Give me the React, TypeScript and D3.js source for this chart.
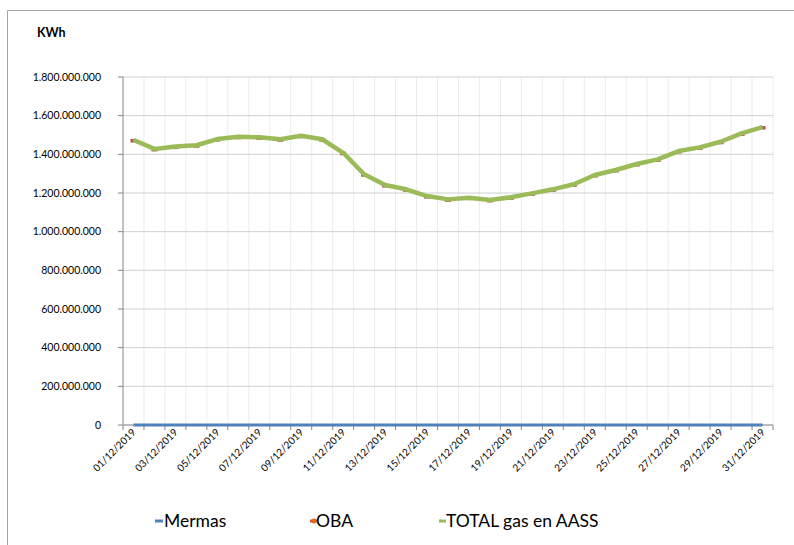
import * as d3 from "d3";
import React from "react";

const days: string[] = [
  "01/12/2019", "02/12/2019", "03/12/2019", "04/12/2019", "05/12/2019", "06/12/2019", "07/12/2019", "08/12/2019",
  "09/12/2019", "10/12/2019", "11/12/2019", "12/12/2019", "13/12/2019", "14/12/2019", "15/12/2019", "16/12/2019",
  "17/12/2019", "18/12/2019", "19/12/2019", "20/12/2019", "21/12/2019", "22/12/2019", "23/12/2019", "24/12/2019",
  "25/12/2019", "26/12/2019", "27/12/2019", "28/12/2019", "29/12/2019", "30/12/2019", "31/12/2019",
];

const mermas: number[] = days.map(() => 0);

const total: number[] = [
  1474e6, 1428e6, 1440e6, 1447e6, 1479e6, 1491e6, 1488e6, 1478e6, 1496e6, 1478e6, 1408e6,
  1297e6, 1241e6, 1219e6, 1184e6, 1167e6, 1176e6, 1164e6, 1178e6, 1198e6, 1219e6, 1245e6,
  1293e6, 1319e6, 1350e6, 1374e6, 1417e6, 1436e6, 1465e6, 1508e6, 1541e6,
];

const oba: number[] = total.map((v, i) => v - mermas[i]);

const yTicks: number[] = [0, 2e8, 4e8, 6e8, 8e8, 1e9, 1.2e9, 1.4e9, 1.6e9, 1.8e9];

const fmt = (v: number) => (v === 0 ? "0" : d3.format(",")(v).replace(/,/g, "."));

const FONT = "Lato, 'Noto Sans', sans-serif";

export default function App() {
  const left = 123, right = 773, top = 77, bottom = 425;
  const x = d3.scaleBand<string>().domain(days).range([left, right]);
  const y = d3.scaleLinear().domain([0, 1.8e9]).range([bottom, top]);
  const cx = (d: string) => (x(d) || 0) + x.bandwidth() / 2;

  const line = (vals: number[]) =>
    d3.line<string>().x((d) => cx(d)).y((d, i) => y(vals[i]))(days) || "";

  const boundaries = d3.range(days.length + 1).map((i) => left + i * x.step());

  return (
    <svg width={794} height={545} style={{ position: "absolute", left: 0, top: 0, background: "#fff" }}>
      <rect x={0} y={0} width={794} height={545} fill="#fff" />
      {/* chart frame */}
      <line x1={7.5} y1={10.5} x2={794} y2={10.5} stroke="#a6a6a6" />
      <line x1={7.5} y1={10.5} x2={7.5} y2={545} stroke="#a6a6a6" />

      <text x={37} y={37} fontFamily={FONT} fontWeight="bold" fontSize={12.5} fill="#000">KWh</text>

      {/* vertical grid */}
      {boundaries.slice(1).map((b, i) => (
        <line key={"v" + i} x1={b} x2={b} y1={top} y2={bottom} stroke="#ececec" />
      ))}
      {/* horizontal grid */}
      {yTicks.slice(1).map((t) => (
        <line key={"h" + t} x1={left} x2={right} y1={y(t)} y2={y(t)} stroke="#d0d0d0" />
      ))}

      {/* axes */}
      <line x1={left} x2={left} y1={top} y2={bottom} stroke="#868686" />
      <line x1={left} x2={right} y1={bottom} y2={bottom} stroke="#a6a6a6" strokeWidth={1.5} />
      {yTicks.map((t) => (
        <g key={"yt" + t}>
          <line x1={left - 5} x2={left} y1={y(t)} y2={y(t)} stroke="#868686" />
          <text x={left - 22} y={y(t)} dy="0.35em" textAnchor="end" fontFamily={FONT} fontSize={10.5} fill="#000">
            {fmt(t)}
          </text>
        </g>
      ))}
      {boundaries.map((b, i) => (
        <line key={"xt" + i} x1={b} x2={b} y1={bottom} y2={bottom + 5} stroke="#868686" />
      ))}
      {days.map((d, i) =>
        i % 2 === 0 ? (
          <text
            key={"xl" + d}
            transform={`translate(${cx(d) + 3},${bottom + 8}) rotate(-45)`}
            textAnchor="end"
            fontFamily={FONT}
            fontSize={10}
            fill="#000"
          >
            {d}
          </text>
        ) : null
      )}

      {/* series */}
      <path d={line(mermas)} fill="none" stroke="#4f81bd" strokeWidth={3} />
      <path d={line(oba)} fill="none" stroke="#c0504d" strokeWidth={2.5} />
      {days.map((d, i) => (
        <rect key={"om" + d} x={cx(d) - 3} y={y(oba[i]) - 1} width={6} height={3.5} fill="#c0504d" />
      ))}
      <path d={line(total)} fill="none" stroke="#9bbb59" strokeWidth={4.5} strokeLinejoin="round" />

      {/* legend */}
      <line x1={155} x2={163} y1={521} y2={521} stroke="#4f81bd" strokeWidth={3} />
      <text x={164} y={527} fontFamily={FONT} fontSize={17.5} fill="#000">Mermas</text>
      <line x1={310} x2={317} y1={521} y2={521} stroke="#c0504d" strokeWidth={3} />
      <circle cx={314} cy={521} r={2.5} fill="#e46c0a" />
      <text x={316} y={527} fontFamily={FONT} fontSize={17.5} fill="#000">OBA</text>
      <line x1={439} x2={446} y1={521} y2={521} stroke="#9bbb59" strokeWidth={3} />
      <text x={446} y={527} fontFamily={FONT} fontSize={17.5} fill="#000">TOTAL gas en AASS</text>
    </svg>
  );
}
